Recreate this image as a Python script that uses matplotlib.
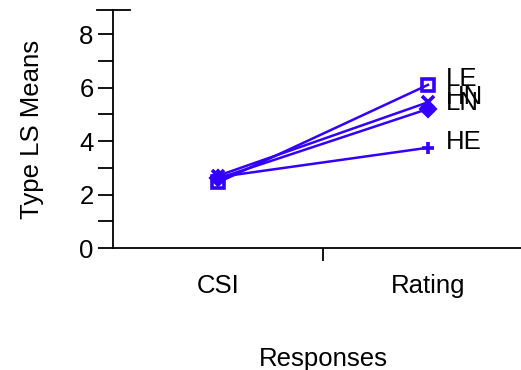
import numpy as np
import matplotlib
matplotlib.use("Agg")
import matplotlib.pyplot as plt

plt.rcParams['font.family'] = ['Liberation Sans', 'DejaVu Sans']

responses = ["CSI", "Rating"]
types = ["LE", "HN", "LN", "HE"]
csi_means = [2.45, 2.7, 2.6, 2.65]
rating_means = [6.1, 5.45, 5.2, 3.75]
markers = ["s", "x", "D", "+"]

blue = "#3300ff"
fs = 18.5

fig = plt.figure(figsize=(5.21, 3.70), dpi=100)
ax = fig.add_axes([113/521, 122/370, 420/521, 238/370])

xs = np.arange(len(responses))
for name, a, b, m in zip(types, csi_means, rating_means, markers):
    filled = m == "D"
    ax.plot(xs, [a, b], color=blue, lw=1.8, marker=m, ms=8 if m != "D" else 7,
            mew=2.6, mfc=blue if filled else "none", mec=blue)
    ax.annotate(name, (xs[-1], b), xytext=(13, 4), textcoords="offset points",
                fontsize=fs, va="center", ha="left")

ax.set_xlim(-0.5, 1.5)
ax.set_ylim(0, 8.9)
ax.spines['top'].set_visible(False)
ax.spines['right'].set_visible(False)
for s in ('left', 'bottom'):
    ax.spines[s].set_linewidth(1.3)

ax.set_xticks(xs)
ax.set_xticklabels(responses, fontsize=fs)
ax.set_xticks([0.5], minor=True)
ax.tick_params(axis='x', which='major', length=0, pad=19)
ax.tick_params(axis='x', which='minor', length=9, width=1.3, direction='out')

ax.set_yticks(np.arange(0, 9, 2))
ax.set_yticks(np.arange(1, 9, 2), minor=True)
ax.tick_params(axis='y', which='both', length=11, width=1.3, labelsize=fs, pad=3)

# short cap at the top of the y axis
ax.axhline(8.9, xmin=-0.038, xmax=0.04, color='black', lw=1.3, clip_on=False)

ax.set_ylabel("Type LS Means", fontsize=fs, labelpad=25)
ax.set_xlabel("Responses", fontsize=fs, labelpad=35)

fig.savefig("out.png", dpi=100)
